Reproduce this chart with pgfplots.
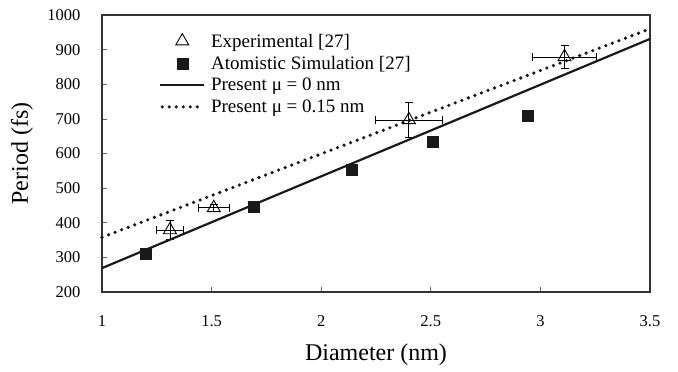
\documentclass[border=0pt]{standalone}
\usepackage{pgfplots}
\pgfplotsset{compat=1.18}
\usepackage{fontspec}
\setmainfont{Liberation Serif}
\newcommand\tickfont{\fontsize{16.5}{18}\selectfont}
\newcommand\legfont{\fontsize{19}{21}\selectfont}
\newcommand\labfont{\fontsize{24}{26}\selectfont}
\pgfplotsset{
  marklegend/.style={legend image code/.code={\draw[##1] plot coordinates {(22pt,0pt)};}},
  linelegend/.style={legend image code/.code={\draw[##1] (0pt,0pt) -- (44pt,0pt);}},
  dotlegend/.style={legend image code/.code={\draw[##1] (2pt,0pt) -- (44pt,0pt);}},
}
\begin{document}
\begin{tikzpicture}
\useasboundingbox (-102pt,-80pt) rectangle (576pt,292pt);
\begin{axis}[
  at={(0pt,0pt)}, anchor=south west,
  scale only axis, width=548pt, height=277pt,
  xmin=1, xmax=3.5, ymin=200, ymax=1000,
  xtick={1,1.5,2,2.5,3,3.5},
  ytick={200,300,...,1000},
  xticklabels={1,1.5,2,2.5,3,3.5},
  yticklabels={200,300,400,500,600,700,800,900,1000},
  tick align=inside, tick pos=left,
  major tick length=5pt,
  tick style={color=black!60, line width=0.6pt},
  axis line style={line width=1.6pt, color=black!80},
  xticklabel style={font=\tickfont, yshift=-20pt},
  yticklabel style={font=\tickfont, xshift=-18pt},
  xlabel={\labfont Diameter (nm)}, ylabel={\labfont Period (fs)},
  xlabel style={at={(axis description cs:0.5,0)}, anchor=center, yshift=-63pt},
  ylabel style={at={(axis description cs:0,0.5)}, anchor=center, yshift=80pt},
  legend style={draw=none, fill=none, at={(axis description cs:0.104,0.94)}, anchor=north west,
    row sep=3.5pt, inner sep=0pt, column sep=3pt},
  legend cell align=left,
  clip=false,
]
\addplot[only marks, mark=triangle, mark size=7.5pt, mark options={fill=white, line width=0.9pt, draw=black},
  marklegend,
  error bars/.cd, x dir=both, x explicit, y dir=both, y explicit,
  error bar style={line width=0.8pt}, error mark options={rotate=90, mark size=4pt, line width=0.8pt}]
  coordinates {
  (1.31,379) +- (0.06,28)
  (1.51,443) +- (0.07,10)
  (2.40,697) +- (0.153,50)
  (3.11,879) +- (0.145,33)
  };
\addlegendentry{\legfont Experimental [27]}
\addplot[only marks, mark=square*, mark size=5.5pt, mark options={fill=black!90, draw=black!90},
  marklegend]
  coordinates {(1.2,310) (1.69,445) (2.14,553) (2.51,633) (2.94,709)};
\addlegendentry{\legfont Atomistic Simulation [27]}
\addplot[no marks, line width=2.2pt, black!90, linelegend] coordinates {(1,269) (2,534) (3.5,931)};
\addlegendentry{\legfont Present μ = 0 nm}
\addplot[no marks, line width=3.6pt, black!90, dash pattern=on 0pt off 7pt, line cap=round,
  dotlegend] coordinates {(1,358) (2,599) (3.5,960)};
\addlegendentry{\legfont Present μ = 0.15 nm}
\end{axis}
\end{tikzpicture}
\end{document}
